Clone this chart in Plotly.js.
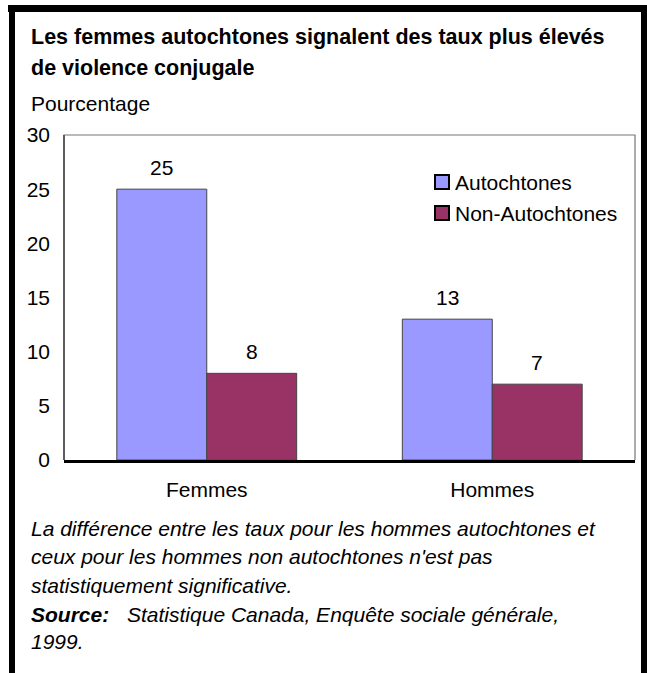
<!DOCTYPE html>
<html>
<head>
<meta charset="utf-8">
<script src="https://cdn.plot.ly/plotly-3.0.1.min.js"></script>
<style>html,body{margin:0;padding:0;background:#fff;}#chart{width:647px;height:673px;}</style>
</head>
<body>
<div id="chart"></div>
<script>
// ---- data ----
const categories = ["Femmes", "Hommes"];
const seriesNames = ["Autochtones", "Non-Autochtones"];
const autochtones = [25, 13];
const nonAutochtones = [8, 7];
const yTickVals = [0, 5, 10, 15, 20, 25, 30];
const titleLines = ["Les femmes autochtones signalent des taux plus élevés", "de violence conjugale"];
const yLabel = "Pourcentage";
const noteLines = [
  "La différence entre les taux pour les hommes autochtones et",
  "ceux pour les hommes non autochtones n'est pas",
  "statistiquement significative."
];
const sourceLabel = "Source:";
const sourceLines = ["Statistique Canada, Enquête sociale générale,", "1999."];

// ---- layout helpers (pixel -> paper) ----
const W = 647, H = 673;
const L = 64, R = 635, T = 135, B = 460;
const px = x => (x - L) / (R - L);
const py = y => (B - y) / (B - T);

const FONT = "Liberation Sans, Arial, Helvetica, sans-serif";
const FS = 21;
const colors = ["#9999FF", "#993366"];
const seriesData = [autochtones, nonAutochtones];

const traces = seriesData.map((vals, i) => ({
  type: "bar",
  name: seriesNames[i],
  x: categories,
  y: vals,
  marker: { color: colors[i], line: { color: "#444", width: 1 } },
  hoverinfo: "x+y+name",
  showlegend: false
}));

const annotations = [];
function txt(text, x, y, opts) {
  annotations.push(Object.assign({
    text: text, xref: "paper", yref: "paper", x: px(x), y: py(y),
    xanchor: "left", yanchor: "middle", showarrow: false,
    font: { family: FONT, size: FS, color: "#000" }
  }, opts || {}));
}
const titleFont = { family: FONT, size: 21.5, color: "#000" };
txt("<b>" + titleLines[0] + "</b>", 29, 37, { font: titleFont });
txt("<b>" + titleLines[1] + "</b>", 29, 68, { font: titleFont });
txt(yLabel, 29, 103);
noteLines.forEach((l, i) => txt("<i>" + l + "</i>", 29, 528 + i * 28.5));
txt("<b><i>" + sourceLabel + "</i></b>", 29, 614);
txt("<i>" + sourceLines[0] + "</i>", 125, 614);
txt("<i>" + sourceLines[1] + "</i>", 29, 641);

// data labels
seriesData.forEach((vals, i) => {
  vals.forEach((v, j) => {
    annotations.push({
      text: String(v), xref: "x", yref: "y", x: categories[j], y: v,
      xshift: (i === 0 ? -45 : 45), yshift: 22,
      xanchor: "center", yanchor: "middle", showarrow: false,
      font: { family: FONT, size: FS, color: "#000" }
    });
  });
});

// legend (custom)
const shapes = [];
const legY = [182, 213];
seriesNames.forEach((n, i) => {
  shapes.push({
    type: "rect", xref: "paper", yref: "paper",
    x0: px(435), x1: px(449), y0: py(legY[i] - 7), y1: py(legY[i] + 7),
    fillcolor: colors[i], line: { color: "#000", width: 2 }
  });
  txt(n, 453, legY[i]);
});

// plot frame (top, left, right)
shapes.push({ type: "path", xref: "paper", yref: "paper",
  path: "M0,0 L0,1 L1,1 L1,0", line: { color: "#777", width: 1.2 } });
shapes.push({ type: "line", xref: "paper", yref: "paper",
  x0: 0, x1: 0, y0: 0, y1: 1, line: { color: "#444", width: 1.5 } });

// outer black border (top, left, right)
shapes.push({ type: "rect", xref: "paper", yref: "paper",
  x0: px(8), x1: px(647), y0: py(12), y1: py(5), fillcolor: "#000", line: { width: 0 } });
shapes.push({ type: "rect", xref: "paper", yref: "paper",
  x0: px(9), x1: px(15), y0: py(673), y1: py(5), fillcolor: "#000", line: { width: 0 } });
shapes.push({ type: "rect", xref: "paper", yref: "paper",
  x0: px(641), x1: px(647), y0: py(673), y1: py(5), fillcolor: "#000", line: { width: 0 } });

const layout = {
  width: W, height: H,
  margin: { l: L, r: W - R, t: T, b: H - B, pad: 0 },
  paper_bgcolor: "#fff", plot_bgcolor: "#fff",
  barmode: "group", bargap: 0.37, bargroupgap: 0,
  font: { family: FONT, size: FS, color: "#000" },
  xaxis: {
    type: "category", showgrid: false, zeroline: false,
    showline: true, linecolor: "#000", linewidth: 3,
    ticks: "outside", ticklen: 9, tickcolor: "rgba(0,0,0,0)",
    tickfont: { family: FONT, size: FS, color: "#000" },
    fixedrange: true
  },
  yaxis: {
    range: [0, 30], tickvals: yTickVals, showgrid: false, zeroline: false,
    showline: false, ticks: "", ticklen: 0,
    ticklabelstandoff: 13,
    tickfont: { family: FONT, size: FS, color: "#000" },
    fixedrange: true
  },
  showlegend: false,
  annotations: annotations,
  shapes: shapes
};

Plotly.newPlot("chart", traces, layout, { displayModeBar: false, staticPlot: true });
</script>
</body>
</html>
